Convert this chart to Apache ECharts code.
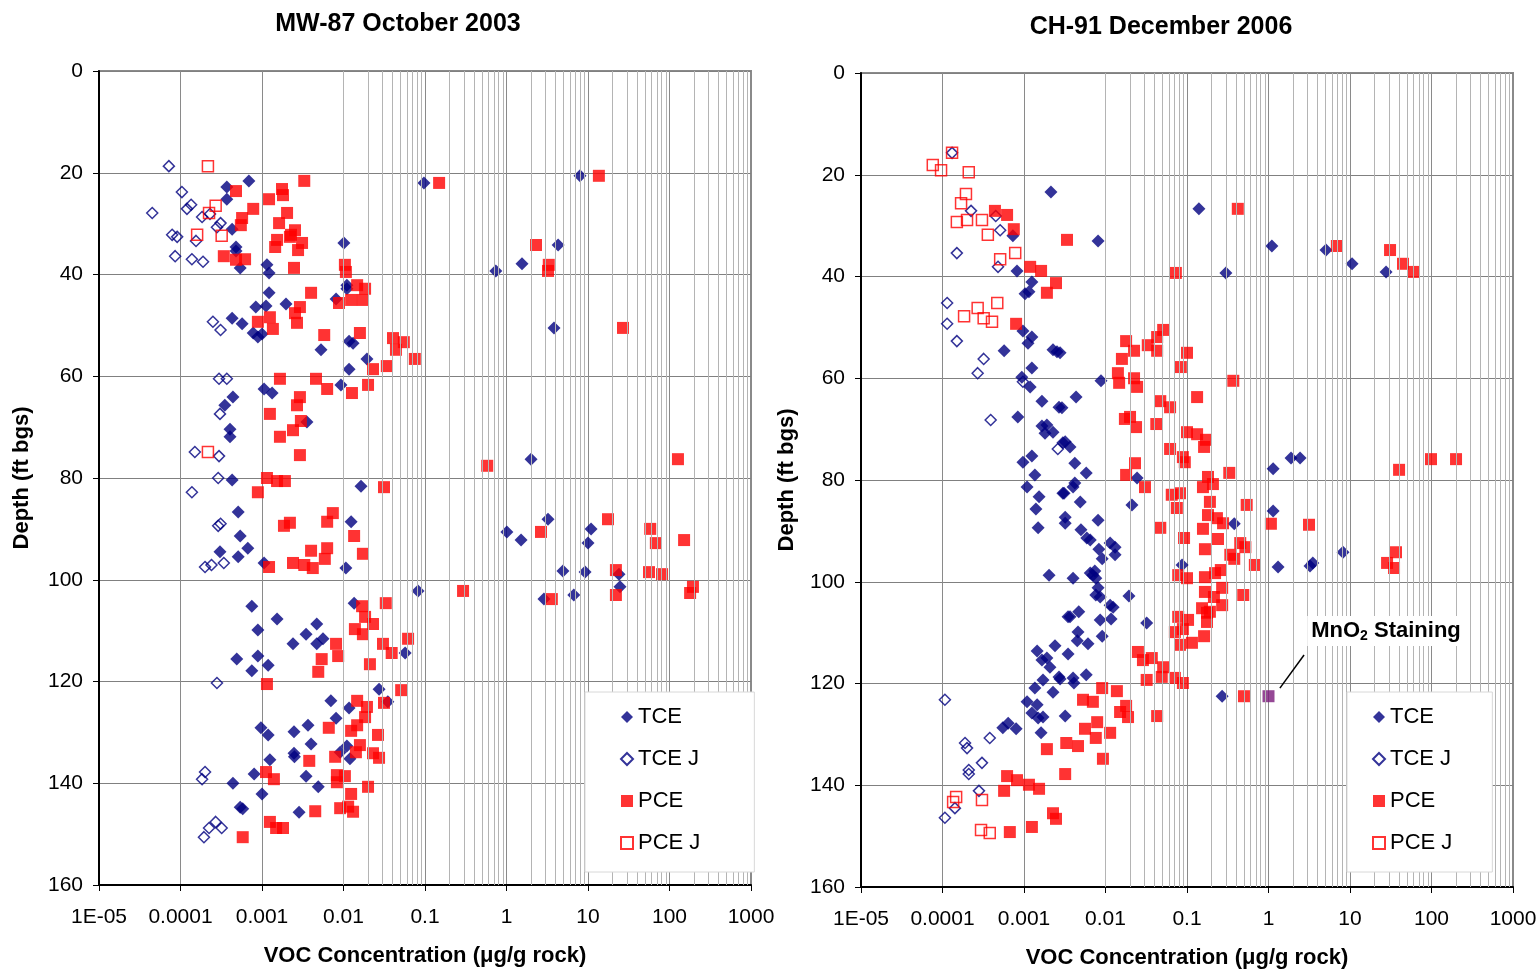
<!DOCTYPE html>
<html>
<head>
<meta charset="utf-8">
<script src="https://cdn.jsdelivr.net/npm/echarts@6/dist/echarts.min.js"></script>
<style>html,body{margin:0;padding:0;background:#fff}#c{width:1540px;height:970px}</style>
</head>
<body>
<div id="c"></div>
<script>
// ---- Tick labels / categories ----
const xTickLabels = ['1E-05','0.0001','0.001','0.01','0.1','1','10','100','1000'];
const seriesNames = ['TCE','TCE J','PCE','PCE J'];
const panelTitles = ['MW-87 October 2003','CH-91 December 2006'];

// ---- MW-87 October 2003: [concentration (ug/g), depth (ft bgs)] ----
const leftTCE = [
[6.9e-4,21.6],[3.7e-4,22.8],[3.7e-4,25.2],[4.3e-4,31.1],[4.8e-4,34.6],[4.8e-4,35.4],[5.4e-4,38.7],[1.15e-3,38.1],[1.22e-3,39.7],[1.22e-3,43.6],[8.4e-4,46.4],[1.12e-3,46.2],[1.97e-3,45.8],[4.3e-4,48.6],[5.7e-4,49.7],[7.8e-4,51.5],[8.9e-4,52.3],[1.0e-3,51.7],[1.06e-3,62.5],[1.33e-3,63.3],[4.4e-4,64.1],[3.5e-4,65.7],[4.05e-4,70.4],[4.05e-4,71.9],[4.3e-4,80.4],[5.1e-4,86.7],[5.4e-4,91.4],[6.7e-4,93.8],[3.05e-4,94.5],[5.1e-4,95.5],[1.06e-3,96.7],[7.5e-4,105.2],[1.53e-3,107.7],[8.9e-4,109.9],[4.9e-4,115.6],[8.9e-4,115.0],[1.19e-3,116.8],[7.5e-4,117.9],[9.7e-4,129.1],[1.19e-3,130.5],[1.25e-3,135.4],[8.0e-4,138.2],[4.4e-4,140.0],[1.0e-3,142.1],[5.4e-4,144.7],[5.8e-4,145.0],
[0.097,22.0],[0.0101,33.8],[0.011,42.1],[0.011,42.8],[8.1e-3,44.8],[0.0117,53.1],[0.0131,53.5],[5.3e-3,54.8],[0.0194,56.6],[0.0117,58.6],[9.3e-3,61.7],[3.56e-3,69.0],[0.0164,81.6],[0.0124,88.6],[0.0107,97.7],[0.082,102.2],[0.0135,104.6],[4.7e-3,108.7],[3.47e-3,110.7],[5.6e-3,111.6],[2.4e-3,112.6],[4.7e-3,112.6],[0.057,114.4],[0.0273,121.5],[7.0e-3,123.8],[0.0117,125.2],[8.1e-3,127.2],[3.67e-3,128.6],[2.47e-3,129.9],[4.0e-3,132.3],[2.47e-3,134.1],[2.5e-3,134.8],[0.011,132.7],[9.1e-3,133.9],[0.012,135.2],[3.47e-3,138.6],[4.9e-3,140.7],[2.85e-3,145.7],[0.035,124.0],
[7.98,20.6],[4.3,34.2],[1.55,37.9],[0.74,39.3],[3.83,50.5],[2.0,76.3],[3.23,88.1],[1.01,90.6],[1.51,92.2],[10.9,90.0],[10.0,92.8],[4.93,98.3],[9.2,98.5],[24,98.9],[24.7,101.4],[6.7,103.0],[2.88,103.8]
];
const leftTCEJ = [
[7.2e-5,18.7],[1.04e-4,23.8],[1.35e-4,26.3],[1.2e-4,27.1],[4.5e-5,27.9],[1.84e-4,28.7],[2.3e-4,28.1],[3.1e-4,29.9],[2.8e-4,30.7],[7.9e-5,32.2],[9.1e-5,32.6],[1.55e-4,33.4],[8.6e-5,36.4],[1.38e-4,37.0],[1.89e-4,37.5],[2.5e-4,49.3],[3.1e-4,50.9],[2.97e-4,60.5],[3.7e-4,60.5],[3.05e-4,67.4],[1.5e-4,74.9],[2.97e-4,75.7],[2.9e-4,80.0],[1.38e-4,82.8],[2.9e-4,89.4],[3.1e-4,89.0],[2.0e-4,97.5],[2.4e-4,97.1],[3.4e-4,96.7],[2.8e-4,120.3],[2.0e-4,137.8],[1.84e-4,139.2],[2.7e-4,147.6],[2.24e-4,148.8],[3.2e-4,148.8],[1.94e-4,150.6]
];
const leftPCE = [
[4.8e-4,23.6],[1.76e-3,23.2],[1.22e-3,25.2],[7.8e-4,27.1],[5.7e-4,28.9],[5.5e-4,30.3],[2.03e-3,27.9],[1.62e-3,29.9],[1.53e-3,33.2],[1.45e-3,34.6],[3.4e-4,36.4],[4.8e-4,37.1],[6.2e-4,37.0],[2.2e-3,32.6],
[8.9e-4,49.3],[1.25e-3,48.4],[1.36e-3,50.7],[1.66e-3,60.5],[1.25e-3,67.4],[1.66e-3,71.9],[1.15e-3,80.0],[1.53e-3,80.6],[1.91e-3,80.6],[8.9e-4,82.8],[1.86e-3,89.4],[1.22e-3,97.5],[1.15e-3,120.5],[1.12e-3,137.8],[1.4e-3,139.2],[1.25e-3,147.6],[1.49e-3,148.8],[1.81e-3,148.8],[5.8e-4,150.6],
[3.3e-3,21.6],[1.81e-3,24.4],[2.54e-3,31.3],[2.27e-3,32.2],[3.1e-3,33.8],[2.77e-3,35.2],[2.47e-3,38.7],[0.0104,38.1],[0.0107,39.5],[0.0147,42.1],[0.0184,42.8],[0.0173,45.0],[4.0e-3,43.6],[8.8e-3,45.6],[0.0124,45.0],[2.92e-3,46.4],[2.54e-3,47.6],[2.69e-3,49.5],[5.8e-3,51.9],[0.0159,51.5],[0.0405,52.5],[0.055,53.3],[0.044,54.8],[0.075,56.6],[0.034,58.0],[0.023,58.6],[0.02,61.7],[4.6e-3,60.5],[6.3e-3,62.5],[0.0127,63.3],[2.92e-3,64.1],[2.69e-3,65.7],[3.0e-3,68.8],[2.4e-3,70.6],[2.92e-3,75.5],
[0.0314,81.8],[7.4e-3,86.9],[6.3e-3,88.6],[2.2e-3,88.8],[0.0135,91.4],[0.0173,94.9],[6.3e-3,93.8],[5.9e-3,95.9],[4.0e-3,94.3],[2.4e-3,96.7],[3.3e-3,97.1],[4.2e-3,97.7],[0.293,102.2],[0.0169,105.2],[0.033,104.6],[0.0184,107.3],[0.023,108.7],[0.0138,109.7],[0.0173,110.7],[0.062,111.6],[0.0305,112.6],[0.039,114.4],[8.1e-3,112.6],[8.6e-3,115.0],[5.4e-3,115.6],[4.9e-3,118.1],[0.0211,116.6],[0.051,121.7],[0.0147,123.8],[0.0194,125.0],[0.0314,124.2],[0.0184,127.0],[0.0147,128.6],[0.0124,129.7],[6.6e-3,129.1],[0.0265,130.5],[0.0159,132.5],[0.0142,133.9],[0.023,134.1],[0.0273,135.0],[7.9e-3,134.8],[3.8e-3,135.6],[8.3e-3,138.4],[0.0104,138.6],[8.3e-3,139.8],[0.02,140.7],[0.0124,142.1],[9.1e-3,144.9],[0.0114,144.6],[0.0131,145.6],[4.5e-3,145.5],
[0.149,22.0],[13.6,20.6],[2.3,34.2],[3.3,38.1],[3.23,39.3],[26.9,50.5],[0.58,77.6],[127,76.3],[17.6,88.1],[2.65,90.6],[58,90.0],[68,92.8],[151,92.2],[22,98.1],[56,98.5],[81,98.9],[22,103.0],[3.6,103.8],[194,101.4],[179,102.6]
];
const leftPCEJ = [[2.17e-4,18.7],[2.7e-4,26.5],[2.24e-4,27.9],[1.6e-4,32.2],[3.2e-4,32.4],[2.17e-4,74.9]];

// ---- CH-91 December 2006 ----
const rightTCE = [
[2.14e-3,23.4],[7.3e-4,32.0],[8.2e-4,38.9],[1.25e-3,41.1],[1.03e-3,43.4],[1.15e-3,43.0],[9.7e-4,50.7],[1.25e-3,51.9],[1.12e-3,53.1],[5.7e-4,54.6],[2.27e-3,54.4],[2.54e-3,54.8],[1.25e-3,58.0],[9.4e-4,59.8],[1.19e-3,61.7],[1.66e-3,64.5],[2.69e-3,65.7],[8.4e-4,67.6],[1.66e-3,69.4],[1.91e-3,69.2],[1.81e-3,70.8],[2.27e-3,70.6],
[3.0e-3,72.7],[9.7e-4,76.5],[1.25e-3,75.3],[1.36e-3,79.0],[1.09e-3,81.4],[1.53e-3,83.3],[3.0e-3,82.6],[1.4e-3,85.7],[3.2e-3,87.3],[3.2e-3,88.5],[1.49e-3,89.4],[2.03e-3,98.7],[3.47e-3,106.9],[1.45e-3,113.6],[2.4e-3,112.6],[1.66e-3,115.4],[1.91e-3,115.0],[2.08e-3,116.8],[2.69e-3,118.7],[1.71e-3,119.3],[1.36e-3,120.9],[2.27e-3,121.7],[1.09e-3,123.6],[1.45e-3,124.2],[1.25e-3,125.8],[1.49e-3,126.8],[1.71e-3,126.6],[3.2e-3,126.4],[5.5e-4,128.7],[6.4e-4,127.8],[8.0e-4,128.9],[1.62e-3,129.7],
[0.14,26.7],[8.1e-3,33.0],[0.30,39.3],[1.1,34.0],[2.77e-3,55.0],[8.8e-3,60.5],[4.35e-3,63.7],[2.92e-3,65.8],[3.2e-3,72.5],[3.67e-3,73.5],[4.2e-3,76.7],[5.8e-3,78.6],[4.2e-3,80.6],[4.0e-3,81.4],[3.1e-3,82.6],[0.0244,79.6],[1.14,77.8],
[4.9e-3,84.3],[0.0211,84.9],[8.1e-3,87.9],[5.0e-3,89.8],[5.9e-3,91.4],[6.5e-3,91.8],[0.0114,92.4],[0.0131,93.2],[0.0131,94.7],[8.3e-3,93.6],[9.1e-3,95.5],[0.38,88.6],[1.14,86.1],[0.087,96.7],[1.31,97.1],[6.5e-3,98.3],[7.4e-3,97.9],[7.6e-3,99.3],[7.0e-3,98.7],[4.0e-3,99.3],[8.1e-3,101.2],[7.6e-3,102.6],[8.6e-3,103.0],[0.0194,102.8],[4.7e-3,105.9],[3.67e-3,106.9],[8.6e-3,107.5],[0.0117,107.3],[0.0124,105.0],[0.0114,104.6],[0.032,108.1],[4.6e-3,109.9],[4.5e-3,111.6],[6.1e-3,112.2],[9.1e-3,110.7],[3.47e-3,114.2],[2.77e-3,119.1],[4.0e-3,118.9],[4.1e-3,119.9],[5.8e-3,118.3],[0.27,122.5],
[5.08,34.8],[10.6,37.5],[27.7,39.1],[1.89,75.7],[2.44,75.7],[8.2,94.2],[3.23,96.9],[3.5,96.3]
];
const rightTCEJ = [
[1.31e-4,15.7],[2.24e-4,27.1],[4.5e-4,28.1],[5.1e-4,30.9],[1.5e-4,35.4],[4.8e-4,38.1],[1.14e-4,45.2],[1.14e-4,49.3],[1.5e-4,52.7],[3.2e-4,56.2],[2.7e-4,59.0],[9.7e-4,60.7],[3.9e-4,68.2],[2.6e-3,73.9],[1.07e-4,123.2],[3.8e-4,130.7],[1.89e-4,131.7],[2.0e-4,132.7],[3.05e-4,135.6],[2.1e-4,137.0],[2.1e-4,137.8],[2.8e-4,141.1],[1.42e-4,144.5],[1.07e-4,146.4]
];
const rightPCE = [
[4.4e-4,27.1],[6.2e-4,27.9],[7.5e-4,30.7],[3.37e-3,32.8],[1.19e-3,38.1],[1.62e-3,38.9],[2.47e-3,41.3],[1.91e-3,43.2],[8.0e-4,49.3],
[1.91e-3,132.9],[3.3e-3,131.7],[6.2e-4,138.2],[8.2e-4,139.0],[1.15e-3,139.9],[1.53e-3,140.7],[5.7e-4,141.1],[3.2e-3,137.8],[2.27e-3,145.5],[2.47e-3,146.6],[6.7e-4,149.2],[1.25e-3,148.2],
[0.42,26.7],[0.073,39.3],[0.051,50.5],[0.043,51.9],[0.033,53.5],[0.043,54.6],[0.0179,52.7],[0.0224,54.6],[0.0159,56.2],[0.1,55.0],[0.084,57.8],[0.0142,59.0],[0.0147,60.9],[0.0224,60.0],[0.0244,61.7],[0.37,60.5],[0.133,63.7],[0.047,64.5],[0.062,65.7],[0.0173,68.0],[0.02,67.6],[0.0237,69.6],[0.042,69.0],[0.1,70.6],[0.133,71.0],[0.171,72.1],[0.162,73.5],[0.062,73.9],[0.089,75.5],[0.094,76.5],[0.023,76.7],[0.0179,79.0],[0.0305,81.4],[0.33,78.6],[0.181,79.4],[0.208,80.8],[0.157,81.4],[0.065,82.9],[0.082,82.6],
[0.075,85.5],[0.191,84.3],[0.54,84.9],[0.047,89.4],[0.092,91.4],[0.157,89.6],[0.181,86.9],[0.233,87.5],[0.277,88.5],[0.24,91.6],[0.166,93.6],[1.07,88.6],[0.45,92.4],[0.52,93.2],[0.34,94.7],[0.38,95.5],[0.68,96.7],[0.078,98.7],[0.1,99.3],[0.166,99.1],[0.221,98.3],[0.26,97.7],[0.166,102.0],[0.27,101.2],[0.214,103.0],[0.27,104.6],[0.49,102.6],[0.153,105.2],[0.176,106.1],[0.191,105.9],[0.078,106.9],[0.103,107.5],[0.176,107.9],[0.071,109.9],[0.089,109.3],[0.162,110.7],[0.082,112.4],[0.115,112.0],[0.025,113.8],[0.0288,115.4],[0.037,115.0],[0.051,116.8],[0.049,118.7],[0.071,118.9],[0.089,119.9],[0.032,119.3],[0.5,122.5],[9.1e-3,120.9],[0.0138,121.5],[5.3e-3,123.2],[7.0e-3,123.6],[0.0179,124.4],[0.0151,125.6],[0.0189,126.6],[0.043,126.4],[7.9e-3,127.6],[5.6e-3,128.9],[7.6e-3,130.7],[0.0114,129.7],[4.6e-3,132.3],[9.3e-3,134.8],
[6.9,34.0],[31,34.8],[44.7,37.5],[61,39.1],[98.6,75.9],[200,75.9],[40,78.0],[3.14,88.8],[28.5,96.3],[34.7,97.3],[36.7,94.2]
];
const rightPCEJ = [
[1.31e-4,15.7],[7.6e-5,18.1],[9.6e-5,19.1],[2.1e-4,19.5],[1.94e-4,23.8],[1.69e-4,25.6],[2.0e-4,28.9],[1.5e-4,29.3],[3.05e-4,28.9],[3.6e-4,31.8],[7.8e-4,35.4],[5.1e-4,36.6],[4.7e-4,45.2],[2.7e-4,46.2],[1.84e-4,47.8],[3.2e-4,48.2],[4.05e-4,48.9],[1.47e-4,142.3],[1.35e-4,143.3],[3.05e-4,142.9],[2.97e-4,148.8],[3.8e-4,149.4]
];
const rightMnO2 = [[1.0,122.5]];
const mnO2Arrow = [[2.73,114.4],[1.38,120.9]];

// ---- build ----
const FONT = '"Liberation Sans", Arial, sans-serif';
const NAVY = '#000080', RED = '#ff0000';
const minorGrid = [];
for (let e = -5; e < 3; e++) for (let m = 2; m <= 9; m++) minorGrid.push(m * Math.pow(10, e));

function xAxisCfg(i) {
  return {
    type: 'log', logBase: 10, min: 1e-5, max: 1000, splitNumber: 8, gridIndex: i,
    axisLine: { show: true, onZero: false, lineStyle: { color: '#000', width: 2 } },
    axisTick: { show: true, length: 6, lineStyle: { color: '#000', width: 1 } },
    axisLabel: { fontSize: 21, color: '#000', fontFamily: FONT, margin: 22,
      formatter: v => xTickLabels[Math.round(Math.log10(v)) + 5] },
    splitLine: { show: true, lineStyle: { color: '#8a8a8a', width: 1 } },
    name: 'VOC Concentration (\u03bcg/g rock)', nameLocation: 'middle', nameGap: 60,
    nameTextStyle: { fontSize: 22, fontWeight: 'bold', color: '#000', fontFamily: FONT }
  };
}
function yAxisCfg(i, gap) {
  return {
    type: 'value', inverse: true, min: 0, max: 160, interval: 20, gridIndex: i,
    axisLine: { show: true, lineStyle: { color: '#000', width: 2 } },
    axisTick: { show: true, length: 6, lineStyle: { color: '#000' } },
    axisLabel: { fontSize: 21, color: '#000', fontFamily: FONT, margin: 16 },
    splitLine: { show: true, lineStyle: { color: '#808080', width: 1 } },
    name: 'Depth (ft bgs)', nameLocation: 'middle', nameGap: gap, nameRotate: 90,
    nameTextStyle: { fontSize: 22, fontWeight: 'bold', color: '#000', fontFamily: FONT }
  };
}
function panelSeries(i, tce, tcej, pce, pcej) {
  return [
    { type: 'scatter', xAxisIndex: i, yAxisIndex: i, silent: true, z: 1, data: [],
      markLine: { silent: true, symbol: 'none', animation: false, label: { show: false },
        lineStyle: { color: '#b4b4b4', width: 1, type: 'solid' },
        emphasis: { disabled: true },
        data: minorGrid.map(v => ({ xAxis: v })) } },
    { name: 'TCE', type: 'scatter', xAxisIndex: i, yAxisIndex: i, symbol: 'diamond', symbolSize: 13,
      itemStyle: { color: NAVY }, data: tce, z: 3 },
    { name: 'TCE J', type: 'scatter', xAxisIndex: i, yAxisIndex: i, symbol: 'diamond', symbolSize: 11,
      itemStyle: { color: 'rgba(255,255,255,0)', borderColor: NAVY, borderWidth: 1.5 }, data: tcej, z: 3 },
    { name: 'PCE', type: 'scatter', xAxisIndex: i, yAxisIndex: i, symbol: 'rect', symbolSize: 12,
      itemStyle: { color: RED }, data: pce, z: 3 },
    { name: 'PCE J', type: 'scatter', xAxisIndex: i, yAxisIndex: i, symbol: 'rect', symbolSize: 11,
      itemStyle: { color: 'rgba(255,255,255,0)', borderColor: RED, borderWidth: 1.5 }, data: pcej, z: 3 }
  ];
}
function legendCfg(left, top, pad) {
  return {
    left: left, top: top, orient: 'vertical', data: seriesNames, selectedMode: false,
    itemWidth: 12, itemHeight: 12, itemGap: 20, padding: pad,
    backgroundColor: '#fff', borderColor: '#d8d8d8', borderWidth: 1,
    textStyle: { fontSize: 22, color: '#000', fontFamily: FONT }, z: 10
  };
}

const chart = echarts.init(document.getElementById('c'), null, { renderer: 'canvas' });
chart.setOption({
  animation: false,
  backgroundColor: '#fff',
  textStyle: { fontFamily: FONT },
  grid: [
    { left: 99, top: 71, width: 652, height: 814, outerBoundsMode: 'none', containLabel: false, show: true, borderColor: '#8a8a8a', borderWidth: 2, backgroundColor: '#fff' },
    { left: 861, top: 73, width: 652, height: 814, outerBoundsMode: 'none', containLabel: false, show: true, borderColor: '#8a8a8a', borderWidth: 2, backgroundColor: '#fff' }
  ],
  xAxis: [xAxisCfg(0), xAxisCfg(1)],
  yAxis: [yAxisCfg(0, 66), yAxisCfg(1, 63)],
  legend: [legendCfg(585, 692, [14, 54, 18, 35]), legendCfg(1347, 692, [14, 40, 18, 25])],
  series: [
    ...panelSeries(0, leftTCE, leftTCEJ, leftPCE, leftPCEJ),
    ...panelSeries(1, rightTCE, rightTCEJ, rightPCE, rightPCEJ),
    { name: 'MnO2', type: 'scatter', xAxisIndex: 1, yAxisIndex: 1, symbol: 'rect', symbolSize: 12,
      itemStyle: { color: '#7a1a7a' }, data: rightMnO2, z: 4,
      markLine: { silent: true, symbol: ['none', 'arrow'], symbolSize: [0, 9], animation: false,
        label: { show: false }, lineStyle: { color: '#000', width: 1.5, type: 'solid' },
        data: [[{ coord: mnO2Arrow[0] }, { coord: mnO2Arrow[1] }]] } }
  ],
  graphic: [
    { type: 'text', x: 398, y: 24, z: 20, style: { text: panelTitles[0], font: 'bold 25px ' + FONT, fill: '#000', align: 'center', verticalAlign: 'middle' } },
    { type: 'text', x: 1161, y: 27, z: 20, style: { text: panelTitles[1], font: 'bold 25px ' + FONT, fill: '#000', align: 'center', verticalAlign: 'middle' } },
    { type: 'text', x: 1386, y: 631, z: 20, style: {
        text: '{a|MnO}{b|2}{a| Staining}', align: 'center', verticalAlign: 'middle',
        backgroundColor: '#fff', padding: [3, 4, 3, 4],
        rich: { a: { font: 'bold 22px ' + FONT, fill: '#000' },
                b: { font: 'bold 14px ' + FONT, fill: '#000', padding: [10, 0, 0, 0] } } } }
  ]
});
</script>
</body>
</html>
